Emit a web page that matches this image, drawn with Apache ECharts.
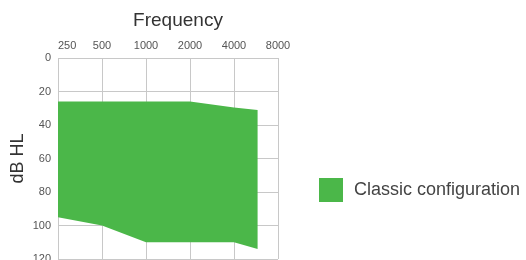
<!DOCTYPE html>
<html>
<head>
<meta charset="utf-8">
<script src="https://cdn.jsdelivr.net/npm/echarts@6/dist/echarts.min.js"></script>
<style>
  html, body { margin: 0; padding: 0; background: #fff; }
  #chart { width: 526px; height: 260px; }
</style>
</head>
<body>
<div id="chart"></div>
<script>
// audiogram band, frequency in Hz, level in dB HL
const freqTicks = [250, 500, 1000, 2000, 4000, 8000]
const bandFreqs = [250, 500, 1000, 2000, 4000, 5800]
const upperDb   = [26, 26, 26, 26, 29.5, 31]
const lowerDb   = [95, 100, 110, 110, 110, 114]
const dbTicks   = [0, 20, 40, 60, 80, 100, 120]
const seriesName = 'Classic configuration'

const green = '#4bb749'
const octave = f => Math.log2(f / freqTicks[0])

// one row per band point: [octave, upper, lower]
const bandRows = bandFreqs.map((f, i) => [octave(f), upperDb[i], lowerDb[i]])

// whole band drawn as one polygon, points go through the axes' coord()
function renderBand(params, api) {
  if (params.dataIndex !== 0) return null
  const top = bandRows.map(r => api.coord([r[0], r[1]]))
  const bottom = bandRows.map(r => api.coord([r[0], r[2]])).reverse()
  return {
    type: 'polygon',
    shape: { points: top.concat(bottom) },
    style: { fill: green },
  }
}

const chart = echarts.init(document.getElementById('chart'), null, { renderer: 'canvas' })
chart.setOption({
  animation: false,
  textStyle: { fontFamily: 'Liberation Sans, Arial, sans-serif' },
  title: {
    text: 'Frequency', left: 173, top: 6, textAlign: 'center',
    textStyle: { fontSize: 19, fontWeight: 'normal', color: '#333' },
  },
  legend: {
    data: [{ name: seriesName, icon: 'rect', itemStyle: { color: green } }],
    left: 314, top: 173, itemWidth: 24, itemHeight: 24,
    textStyle: { fontSize: 18, color: '#444', padding: [0, 0, 0, 6] },
  },
  grid: { left: 58, right: 248, top: 58, bottom: 1, outerBoundsMode: 'none' },
  xAxis: {
    type: 'value', position: 'top', min: 0, max: freqTicks.length - 1, interval: 1,
    axisLine: { show: false }, axisTick: { show: false },
    axisLabel: { fontSize: 11, color: '#555', margin: 7, alignMinLabel: 'left', formatter: v => String(freqTicks[v]) },
    splitLine: { lineStyle: { color: '#c8c8c8', width: 1 } },
  },
  yAxis: {
    type: 'value', inverse: true, min: dbTicks[0], max: dbTicks[dbTicks.length - 1], interval: 20,
    name: 'dB HL', nameLocation: 'middle', nameGap: 31, nameRotate: 90,
    nameTextStyle: { fontSize: 18, color: '#333' },
    axisLine: { show: false }, axisTick: { show: false },
    axisLabel: { fontSize: 11, color: '#555', margin: 7 },
    splitLine: { lineStyle: { color: '#c8c8c8', width: 1 } },
  },
  series: [
    {
      name: seriesName, type: 'custom', renderItem: renderBand,
      data: bandRows, itemStyle: { color: green },
      encode: { x: 0, y: [1, 2] }, clip: true,
    },
  ],
})
</script>
</body>
</html>
